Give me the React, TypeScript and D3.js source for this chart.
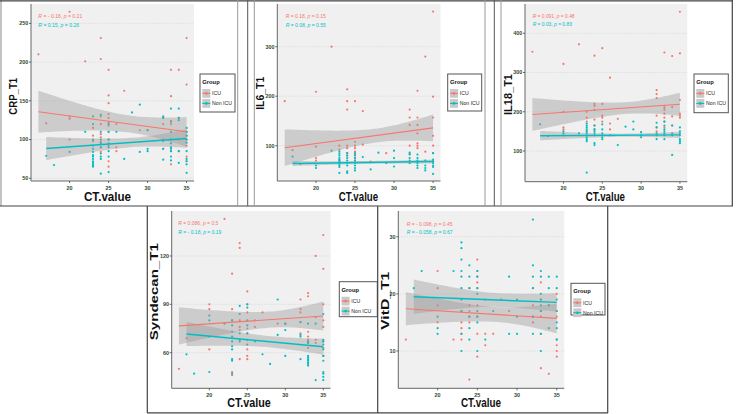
import React from "react";
import * as d3 from "d3";

type Pt = [number, number];

// ---------------- DATA ----------------
const GROUPS = ["ICU", "Non ICU"];
const X_TICKS = [20, 25, 30, 35];

const CRP_ICU: Pt[] = [[16,210],[17,121],[20,265],[20,130],[20,127],[20,100],[22,201],[23,115],[23,105],[23,98],[24,231],[24,204],[24,130],[24,120],[24,107],[24,103],[24,97],[24,90],[24,84],[25,190],[25,157],[25,147],[25,133],[25,128],[25,122],[25,118],[25,110],[25,100],[25,92],[25,72],[25,65],[26,120],[26,90],[26,85],[27,163],[29,112],[30,112],[32,128],[32,120],[32,100],[32,88],[33,190],[33,156],[33,124],[33,120],[33,100],[33,85],[33,68],[34,190],[34,128],[34,100],[34,85],[35,231],[35,171],[35,110],[35,105],[35,100],[35,92],[35,78],[35,72]];
const CRP_NON: Pt[] = [[17,79],[18,67],[20,84],[22,110],[23,130],[23,120],[23,100],[23,92],[23,88],[23,84],[23,80],[23,78],[23,75],[23,72],[23,70],[23,68],[23,66],[23,65],[24,132],[24,110],[24,100],[24,95],[24,90],[24,82],[24,78],[24,75],[24,56],[25,120],[25,110],[25,100],[25,95],[25,90],[25,85],[25,78],[25,58],[26,110],[27,75],[28,135],[29,145],[29,84],[30,112],[30,88],[30,85],[32,130],[32,128],[32,98],[32,88],[32,74],[33,140],[33,123],[33,110],[33,100],[33,95],[33,90],[33,88],[33,85],[33,78],[33,73],[34,140],[34,128],[34,125],[34,85],[34,70],[35,115],[35,110],[35,105],[35,100],[35,96],[35,85],[35,75],[35,72],[35,68],[35,57]];

const IL6_ICU: Pt[] = [[16,190],[17,91],[20,209],[20,98],[20,75],[20,70],[22,300],[23,100],[23,92],[24,214],[24,190],[24,173],[24,100],[24,95],[24,85],[24,80],[25,190],[25,108],[25,100],[25,95],[25,88],[25,82],[25,75],[25,70],[26,170],[26,102],[27,68],[29,85],[32,173],[32,157],[32,142],[32,100],[32,82],[33,211],[33,157],[33,142],[33,125],[33,105],[33,100],[33,95],[34,280],[34,88],[35,371],[35,199],[35,157],[35,120],[35,100],[35,85],[35,70]];
const IL6_NON: Pt[] = [[17,78],[18,63],[20,60],[20,55],[22,90],[23,88],[23,84],[23,80],[23,75],[23,72],[23,70],[23,68],[23,66],[23,63],[23,60],[23,57],[23,45],[24,85],[24,80],[24,75],[24,70],[24,65],[24,60],[24,48],[24,45],[25,85],[25,80],[25,75],[25,70],[25,65],[25,60],[25,55],[25,50],[26,77],[27,52],[28,86],[29,65],[30,90],[30,75],[30,58],[32,86],[32,83],[32,75],[32,70],[32,65],[33,82],[33,75],[33,70],[33,68],[33,65],[33,60],[33,55],[34,70],[34,60],[34,55],[34,50],[35,85],[35,72],[35,68],[35,65],[35,60],[35,57],[35,43]];

const IL18_ICU: Pt[] = [[16,353],[20,322],[20,200],[20,160],[20,155],[22,372],[23,200],[23,185],[23,175],[23,150],[24,343],[24,220],[24,215],[24,205],[24,180],[24,165],[24,155],[25,362],[25,220],[25,190],[25,185],[25,175],[26,287],[26,170],[26,155],[27,182],[32,255],[32,245],[32,235],[32,190],[32,160],[32,150],[33,351],[33,215],[33,210],[33,205],[33,195],[33,185],[33,175],[33,160],[34,342],[34,212],[34,188],[34,165],[35,455],[35,349],[35,230],[35,195],[35,190],[35,185]];
const IL18_NON: Pt[] = [[17,168],[18,138],[20,150],[20,145],[20,140],[22,145],[23,170],[23,165],[23,160],[23,155],[23,150],[23,145],[23,140],[23,135],[23,130],[23,125],[23,45],[24,165],[24,155],[24,150],[24,145],[24,140],[24,120],[24,115],[25,168],[25,155],[25,145],[25,140],[25,135],[25,130],[26,140],[27,115],[28,162],[29,175],[29,155],[30,148],[30,140],[30,135],[32,172],[32,160],[32,145],[32,140],[32,130],[33,175],[33,165],[33,155],[33,150],[33,145],[33,140],[33,130],[34,165],[34,145],[34,140],[34,90],[35,160],[35,150],[35,145],[35,140],[35,130],[35,125],[35,120]];

const SYN_ICU: Pt[] = [[16,50],[17,69],[20,90],[20,87],[20,62],[22,143],[23,109],[23,87],[23,80],[23,48],[23,46],[24,128],[24,125],[24,80],[24,76],[24,74],[24,56],[25,98],[25,90],[25,85],[25,75],[25,72],[25,62],[25,58],[25,56],[26,80],[26,76],[27,85],[29,78],[30,78],[32,93],[32,87],[32,85],[32,79],[32,72],[33,97],[33,95],[33,73],[33,70],[33,68],[33,66],[33,63],[34,120],[34,82],[34,68],[34,66],[35,133],[35,112],[35,90],[35,80],[35,76],[35,67],[35,63],[35,58]];
const SYN_NON: Pt[] = [[17,59],[18,47],[20,83],[20,80],[20,70],[20,48],[22,78],[23,80],[23,77],[23,73],[23,70],[23,67],[23,64],[23,62],[23,56],[23,55],[23,47],[24,89],[24,84],[24,72],[24,68],[24,67],[25,90],[25,88],[25,80],[25,77],[25,72],[25,68],[25,65],[26,67],[27,59],[28,53],[29,93],[29,71],[30,78],[30,74],[30,58],[32,79],[32,71],[32,70],[32,56],[33,78],[33,67],[33,66],[33,58],[33,57],[33,56],[33,55],[33,54],[33,53],[33,52],[34,78],[34,43],[35,84],[35,68],[35,67],[35,65],[35,62],[35,58],[35,55],[35,48],[35,47],[35,45],[35,43]];

const VITD_ICU: Pt[] = [[16,12],[20,24],[20,21],[20,18],[20,15],[22,12],[23,17],[23,15],[23,14],[23,13],[23,12],[24,21],[24,18],[24,17],[24,16],[24,15],[24,5],[25,26],[25,24],[25,23],[25,22],[25,21],[25,18],[25,16],[25,13],[25,9],[26,13],[26,11],[27,13],[29,17],[32,21],[32,18],[32,16],[32,15],[33,22],[33,19],[33,17],[33,16],[33,13],[33,7],[34,18],[34,6],[35,20],[35,17],[35,16],[35,12],[35,11],[35,10],[35,9]];
const VITD_NON: Pt[] = [[17,21],[18,24],[20,16],[20,14],[20,13],[22,24],[23,29],[23,28],[23,26],[23,24],[23,23],[23,21],[23,19],[23,17],[23,13],[23,10],[24,25],[24,23],[24,21],[24,16],[24,14],[24,12],[25,24],[25,23],[25,21],[25,20],[25,17],[25,16],[25,15],[25,10],[26,19],[26,12],[27,17],[28,19],[29,23],[29,13],[30,19],[30,16],[30,13],[32,33],[32,25],[32,23],[32,21],[32,16],[32,13],[33,24],[33,23],[33,20],[33,19],[33,18],[33,17],[33,13],[33,10],[34,23],[34,21],[34,18],[34,14],[35,23],[35,21],[35,19],[35,17],[35,15],[35,14],[35,12]];

// regression line: [x0, fit0, x1, fit1]; CI half-widths: [left, min, right]
const CRP_FIT_ICU = [16, 136, 35, 110]; const CRP_CI_ICU = [27, 11, 19];
const CRP_FIT_NON = [17, 88.4, 35, 101.3]; const CRP_CI_NON = [15, 6, 12];
const IL6_FIT_ICU = [16, 96, 35, 136]; const IL6_CI_ICU = [37, 14, 27];
const IL6_FIT_NON = [17, 64, 35, 68]; const IL6_CI_NON = [5, 3, 4];
const IL18_FIT_ICU = [16, 193, 35, 219]; const IL18_CI_ICU = [42, 15, 29];
const IL18_FIT_NON = [17, 139, 35, 141]; const IL18_CI_NON = [12, 4, 8];
const SYN_FIT_ICU = [16, 76.6, 35, 82.8]; const SYN_CI_ICU = [11.6, 5, 9];
const SYN_FIT_NON = [17, 71.6, 35, 63.7]; const SYN_CI_NON = [7.5, 3.5, 5];
const VITD_FIT_ICU = [16, 17.4, 35, 15.7]; const VITD_CI_ICU = [2.9, 1.3, 2.6];
const VITD_FIT_NON = [17, 19.5, 35, 18.5]; const VITD_CI_NON = [3.0, 1.2, 1.6];

const CRP_TICKS = [50, 100, 150, 200, 250];
const IL6_TICKS = [100, 200, 300];
const IL18_TICKS = [100, 200, 300, 400];
const SYN_TICKS = [60, 90, 120];
const VITD_TICKS = [10, 20, 30];

const CRP_STATS = [["- 0.16", "0.21"], ["0.15", "0.26"]];
const IL6_STATS = [["0.18", "0.15"], ["0.08", "0.55"]];
const IL18_STATS = [["0.091", "0.48"], ["0.03", "0.83"]];
const SYN_STATS = [["0.086", "0.5"], ["- 0.18", "0.19"]];
const VITD_STATS = [["- 0.098", "0.45"], ["- 0.058", "0.67"]];

// ---------------- STYLE / LAYOUT ----------------
const RED = "#F8766D";
const TEAL = "#00BFC4";
const FONT = "'Liberation Sans', Arial, Helvetica, sans-serif";
const TICK_COL = "#2f4a2f";

type Cfg = {
  ylab: string;
  icu: Pt[]; non: Pt[];
  fitIcu: number[]; ciIcu: number[]; fitNon: number[]; ciNon: number[];
  yTicks: number[]; yDomain: [number, number];
  stats: string[][];
  box: { l: number; r: number; t: number; b: number };
  ann: { x: number; y1: number; y2: number; fs: number };
  legend: { x: number; y: number; w: number; h: number };
  ylabPos: { x: number; y: number; len: number };
  xlabPos: { x: number; y: number; len: number };
};

const PANELS: Cfg[] = [
  {
    ylab: "CRP_T1", icu: CRP_ICU, non: CRP_NON, fitIcu: CRP_FIT_ICU, ciIcu: CRP_CI_ICU, fitNon: CRP_FIT_NON, ciNon: CRP_CI_NON,
    yTicks: CRP_TICKS, yDomain: [46.5, 275], stats: CRP_STATS,
    box: { l: 31, r: 194, t: 4, b: 181 },
    ann: { x: 38.3, y1: 16.7, y2: 25, fs: 5.1 },
    legend: { x: 200, y: 74, w: 35, h: 38 },
    ylabPos: { x: 12.7, y: 96.3, len: 37 },
    xlabPos: { x: 107.5, y: 197, len: 47 },
  },
  {
    ylab: "IL6_T1", icu: IL6_ICU, non: IL6_NON, fitIcu: IL6_FIT_ICU, ciIcu: IL6_CI_ICU, fitNon: IL6_FIT_NON, ciNon: IL6_CI_NON,
    yTicks: IL6_TICKS, yDomain: [28.7, 386.3], stats: IL6_STATS,
    box: { l: 277.3, r: 440.5, t: 4, b: 181 },
    ann: { x: 285.7, y1: 16.7, y2: 25, fs: 5.0 },
    legend: { x: 447.7, y: 74, w: 34, h: 37 },
    ylabPos: { x: 260, y: 93.3, len: 33 },
    xlabPos: { x: 358.5, y: 196.7, len: 39.3 },
  },
  {
    ylab: "IL18_T1", icu: IL18_ICU, non: IL18_NON, fitIcu: IL18_FIT_ICU, ciIcu: IL18_CI_ICU, fitNon: IL18_FIT_NON, ciNon: IL18_CI_NON,
    yTicks: IL18_TICKS, yDomain: [21.7, 474.7], stats: IL18_STATS,
    box: { l: 525, r: 687.3, t: 4, b: 181.7 },
    ann: { x: 532.7, y1: 16, y2: 24.3, fs: 4.9 },
    legend: { x: 694, y: 74, w: 34.3, h: 38.7 },
    ylabPos: { x: 508.3, y: 94.5, len: 41 },
    xlabPos: { x: 605.3, y: 196.7, len: 39.3 },
  },
  {
    ylab: "Syndecan_T1", icu: SYN_ICU, non: SYN_NON, fitIcu: SYN_FIT_ICU, ciIcu: SYN_CI_ICU, fitNon: SYN_FIT_NON, ciNon: SYN_CI_NON,
    yTicks: SYN_TICKS, yDomain: [37.9, 147.9], stats: SYN_STATS,
    box: { l: 171.7, r: 330.5, t: 211, b: 388.3 },
    ann: { x: 178.3, y1: 223.3, y2: 232.3, fs: 5.0 },
    legend: { x: 339.3, y: 281.7, w: 38, h: 35 },
    ylabPos: { x: 154, y: 291.7, len: 97 },
    xlabPos: { x: 249, y: 403, len: 43.7 },
  },
  {
    ylab: "VitD_T1", icu: VITD_ICU, non: VITD_NON, fitIcu: VITD_FIT_ICU, ciIcu: VITD_CI_ICU, fitNon: VITD_FIT_NON, ciNon: VITD_CI_NON,
    yTicks: VITD_TICKS, yDomain: [3.47, 34.5], stats: VITD_STATS,
    box: { l: 398.3, r: 564.3, t: 211, b: 388.3 },
    ann: { x: 406.7, y1: 224, y2: 232.3, fs: 5.0 },
    legend: { x: 571, y: 283.3, w: 34, h: 31.7 },
    ylabPos: { x: 385, y: 300.8, len: 58 },
    xlabPos: { x: 481, y: 403, len: 40 },
  },
];

function bandPoints(fit: number[], ci: number[], pts: Pt[]) {
  const [x0, y0, x1, y1] = fit;
  const [hL, hm, hR] = ci;
  const xbar = d3.mean(pts, (d) => d[0]) as number;
  const n = 48;
  return d3.range(n + 1).map((i) => {
    const xx = x0 + ((x1 - x0) * i) / n;
    const f = y0 + ((y1 - y0) * (xx - x0)) / (x1 - x0);
    const left = xx < xbar;
    const rel = left ? (xx - xbar) / (x0 - xbar) : (xx - xbar) / (x1 - xbar);
    const H = left ? hL : hR;
    const h = Math.sqrt(hm * hm + (H * H - hm * hm) * rel * rel);
    return { x: xx, f, lo: f - h, hi: f + h };
  });
}

const Legend: React.FC<{ x: number; y: number; w: number; h: number }> = ({ x, y, w, h }) => {
  const colors = [RED, TEAL];
  return (
    <g>
      <rect x={x} y={y} width={w} height={h} fill="#fff" stroke="#555" strokeWidth={1} />
      <text x={x + 2.3} y={y + 10} fontFamily={FONT} fontWeight="bold" fontSize={5.8} fill="#111">Group</text>
      {GROUPS.map((g, i) => {
        const ky = y + 15 + i * 10;
        return (
          <g key={g}>
            <rect x={x + 2.3} y={ky} width={8} height={8.8} fill="#C9C9C9" />
            <line x1={x + 2.3} x2={x + 10.3} y1={ky + 4.4} y2={ky + 4.4} stroke={colors[i]} strokeWidth={1.1} />
            <circle cx={x + 6.3} cy={ky + 4.4} r={1.3} fill={colors[i]} />
            <text x={x + 12} y={ky + 4.4} dy="0.35em" fontFamily={FONT} fontSize={5.2} fill="#222">{g}</text>
          </g>
        );
      })}
    </g>
  );
};

const Panel: React.FC<{ cfg: Cfg; idx: number }> = ({ cfg, idx }) => {
  const { box } = cfg;
  const x = d3.scaleLinear().domain([15.05, 35.95]).range([box.l, box.r]);
  const y = d3.scaleLinear().domain(cfg.yDomain).range([box.b, box.t]);
  const clipId = `clip${idx}`;
  const area = d3
    .area<{ x: number; lo: number; hi: number }>()
    .x((d) => x(d.x))
    .y0((d) => y(d.lo))
    .y1((d) => y(d.hi))
    .curve(d3.curveMonotoneX);
  const series = [
    { pts: cfg.icu, fit: cfg.fitIcu, ci: cfg.ciIcu, color: RED, lw: 1.1 },
    { pts: cfg.non, fit: cfg.fitNon, ci: cfg.ciNon, color: TEAL, lw: 1.4 },
  ];
  return (
    <g>
      <defs>
        <clipPath id={clipId}>
          <rect x={box.l} y={box.t} width={box.r - box.l} height={box.b - box.t} />
        </clipPath>
      </defs>
      <rect x={box.l} y={box.t} width={box.r - box.l} height={box.b - box.t} fill="#F0F0F0" />
      {cfg.yTicks.map((t) => (
        <line key={t} x1={box.l} x2={box.r} y1={y(t)} y2={y(t)} stroke="#CFCFCF" strokeWidth={0.6} strokeDasharray="1,1.2" />
      ))}
      <g clipPath={`url(#${clipId})`}>
        {series.map((s, si) =>
          s.pts.map((p, i) => <circle key={`${si}-${i}`} cx={x(p[0])} cy={y(p[1])} r={1.1} fill={s.color} />)
        )}
        {series.map((s, si) => (
          <path key={`b${si}`} d={area(bandPoints(s.fit, s.ci, s.pts)) || ""} fill="#9a9a9a" fillOpacity={0.42} />
        ))}
        {series.map((s, si) => (
          <line key={`l${si}`} x1={x(s.fit[0])} y1={y(s.fit[1])} x2={x(s.fit[2])} y2={y(s.fit[3])} stroke={s.color} strokeWidth={s.lw} />
        ))}
      </g>
      {/* axes */}
      <line x1={box.l} x2={box.l} y1={box.t} y2={box.b} stroke="#666" strokeWidth={1} />
      <line x1={box.l} x2={box.r} y1={box.b} y2={box.b} stroke="#666" strokeWidth={1} />
      {cfg.yTicks.map((t) => (
        <g key={t}>
          <line x1={box.l - 2} x2={box.l} y1={y(t)} y2={y(t)} stroke="#444" strokeWidth={0.8} />
          <text x={box.l - 2.8} y={y(t)} dy="0.35em" textAnchor="end" fontFamily={FONT} fontWeight="bold" fontSize={5.4} fill={TICK_COL}>{t}</text>
        </g>
      ))}
      {X_TICKS.map((t) => (
        <g key={t}>
          <line x1={x(t)} x2={x(t)} y1={box.b} y2={box.b + 2} stroke="#444" strokeWidth={0.8} />
          <text x={x(t)} y={box.b + 8.5} textAnchor="middle" fontFamily={FONT} fontWeight="bold" fontSize={5.4} fill={TICK_COL}>{t}</text>
        </g>
      ))}
      {/* stats */}
      {cfg.stats.map((st, i) => (
        <text key={i} x={cfg.ann.x} y={(i === 0 ? cfg.ann.y1 : cfg.ann.y2) + cfg.ann.fs * 0.35} fontFamily={FONT} fontSize={cfg.ann.fs}
          fill={i === 0 ? RED : TEAL}>
          <tspan fontStyle="italic">R</tspan>{` = ${st[0]}, `}<tspan fontStyle="italic">p</tspan>{` = ${st[1]}`}
        </text>
      ))}
      {/* labels */}
      <text transform={`translate(${cfg.ylabPos.x},${cfg.ylabPos.y}) rotate(-90)`} dy="0.36em" textAnchor="middle"
        fontFamily={FONT} fontWeight="bold" fontSize={11} fill="#111" textLength={cfg.ylabPos.len} lengthAdjust="spacingAndGlyphs">{cfg.ylab}</text>
      <text x={cfg.xlabPos.x} y={cfg.xlabPos.y} dy="0.36em" textAnchor="middle" fontFamily={FONT} fontWeight="bold" fontSize={12}
        fill="#111" textLength={cfg.xlabPos.len} lengthAdjust="spacingAndGlyphs">CT.value</text>
      <Legend {...cfg.legend} />
    </g>
  );
};

export default function App() {
  return (
    <svg width={738} height={414} style={{ position: "absolute", left: 0, top: 0, background: "#fff" }}>
      <rect x={0} y={0} width={738} height={414} fill="#fff" />
      {PANELS.map((p, i) => (
        <Panel key={i} cfg={p} idx={i} />
      ))}
      {/* frames */}
      <line x1={1} x2={1} y1={0} y2={206} stroke="#888" strokeWidth={1} />
      <line x1={0} x2={733} y1={0.8} y2={0.8} stroke="#444" strokeWidth={1.2} />
      <line x1={0} x2={733} y1={206} y2={206} stroke="#444" strokeWidth={1.2} />
      <line x1={732.3} x2={732.3} y1={0} y2={206} stroke="#444" strokeWidth={1.2} />
      <line x1={237.7} x2={237.7} y1={0} y2={206} stroke="#999" strokeWidth={1} />
      <line x1={247.7} x2={247.7} y1={0} y2={206} stroke="#555" strokeWidth={1} />
      <line x1={254.3} x2={254.3} y1={0} y2={206} stroke="#999" strokeWidth={1} />
      <line x1={485} x2={485} y1={0} y2={206} stroke="#999" strokeWidth={1} />
      <line x1={494.3} x2={494.3} y1={0} y2={206} stroke="#555" strokeWidth={1} />
      <line x1={501} x2={501} y1={0} y2={206} stroke="#999" strokeWidth={1} />
      <line x1={147.3} x2={147.3} y1={206} y2={413} stroke="#444" strokeWidth={1.2} />
      <line x1={377.7} x2={377.7} y1={206} y2={413} stroke="#444" strokeWidth={1.2} />
      <line x1={607.7} x2={607.7} y1={206} y2={413} stroke="#444" strokeWidth={1.2} />
      <line x1={147} x2={608} y1={412.8} y2={412.8} stroke="#444" strokeWidth={1.2} />
    </svg>
  );
}
